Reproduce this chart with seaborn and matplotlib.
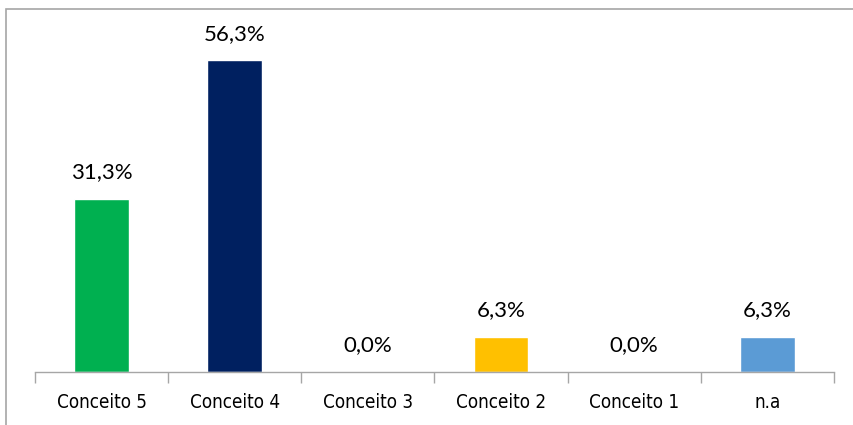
import matplotlib
matplotlib.use("Agg")
import matplotlib.pyplot as plt
import seaborn as sns
import pandas as pd
from matplotlib.patches import Rectangle
from matplotlib import font_manager as fm

categories = ["Conceito 5", "Conceito 4", "Conceito 3", "Conceito 2", "Conceito 1", "n.a"]
values = [31.3, 56.3, 0.0, 6.3, 0.0, 6.3]
colors = ["#00B050", "#002060", "#A5A5A5", "#FFC000", "#7F7F7F", "#5B9BD5"]
value_labels = ["31,3%", "56,3%", "0,0%", "6,3%", "0,0%", "6,3%"]

sns.set_theme(style="white")
plt.rcParams['font.family'] = ['Lato', 'DejaVu Sans']

W, H = 854, 425
fig = plt.figure(figsize=(W / 100, H / 100), dpi=100)
ax = fig.add_axes([35 / W, 1 - 372 / H, (834 - 35) / W, (372 - 40) / H])

df = pd.DataFrame({"cat": categories, "val": values})
sns.barplot(data=df, x="cat", y="val", hue="cat", palette=colors, legend=False,
            width=0.41, ax=ax, saturation=1)

ax.set_ylim(0, 60)
ax.set_xlim(-0.5, len(categories) - 0.5)
ax.set_xlabel("")
ax.set_ylabel("")
ax.set_yticks([])
for s in ["top", "right", "left"]:
    ax.spines[s].set_visible(False)
ax.spines["bottom"].set_color("#A6A6A6")
ax.spines["bottom"].set_linewidth(1.0)

ax.set_xticks([i - 0.5 for i in range(len(categories) + 1)], minor=True)
ax.tick_params(axis="x", which="minor", length=8, color="#A6A6A6", width=1.0, bottom=True)
ax.tick_params(axis="x", which="major", length=0, pad=15)
ax.set_xticks(range(len(categories)))
tick_font = fm.FontProperties(family="DejaVu Sans", stretch="condensed", size=13.5)
ax.set_xticklabels(categories, fontproperties=tick_font, color="#000000")

for i, (v, lab) in enumerate(zip(values, value_labels)):
    ax.annotate(lab, (i, v), xytext=(0, 12), textcoords="offset points",
                ha="center", va="bottom", fontsize=16, color="#000000",
                annotation_clip=False)

fig.patches.append(Rectangle((6 / W, -0.1), 1.2, 1 - 9 / H + 0.1,
                             transform=fig.transFigure, fill=False,
                             edgecolor="#A6A6A6", linewidth=1.2))

fig.savefig("out.png", dpi=100, facecolor="white")
